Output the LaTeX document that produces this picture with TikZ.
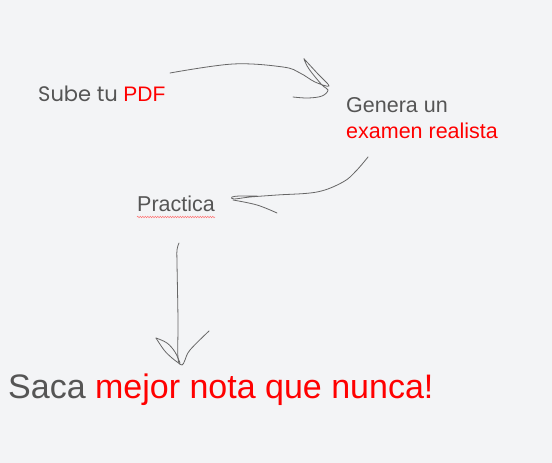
\documentclass[tikz,border=0pt]{standalone}
\usepackage{fontspec}
\setmainfont{Liberation Sans}
\newfontfamily\popfont{Poppins}
\usetikzlibrary{decorations.pathmorphing}
\definecolor{bgc}{HTML}{F3F4F6}
\definecolor{txtgray}{HTML}{555555}
\definecolor{linegray}{HTML}{666666}
\definecolor{myred}{HTML}{FF0000}
\tikzset{
  lbl/.style={anchor=base west, inner sep=0pt, text=txtgray},
  squig/.style={draw=linegray, line width=0.8pt, line cap=round, line join=round}
}
\begin{document}
\begin{tikzpicture}[x=1pt,y=-1pt]
\fill[bgc] (0,0) rectangle (552,463);
\useasboundingbox (0,0) rectangle (552,463);

\node[lbl, font=\fontsize{21}{25}\selectfont] (sube) at (38,101) {\popfont Sube tu \rmfamily\textcolor{myred}{PDF}};
\node[lbl, font=\fontsize{21.5}{26}\selectfont] (gen) at (346,112) {Genera un};
\node[lbl, font=\fontsize{21.5}{26}\selectfont, text=myred] (exam) at (346,138) {examen realista};
\node[lbl, font=\fontsize{21.5}{26}\selectfont] (prac) at (137,211) {Practica};
\node[lbl, font=\fontsize{34}{40}\selectfont] (saca) at (8,398) {Saca \textcolor{myred}{mejor nota que nunca!}};

% spell-check underline
\draw[myred!55, line width=0.5pt, decorate, decoration={snake, amplitude=0.7pt, segment length=2.5pt}] (137,217) -- (215,217);

% arrow 1
\draw[squig] plot[smooth, tension=0.6] coordinates {(170,73) (233,64) (283,67) (300,73) (315,82) (329,86) (318,74) (306,61) (304,59) (309,69) (322,85) (328,90) (322,96) (308,98) (293,97)};

% arrow 2
\draw[squig] plot[smooth, tension=0.6] coordinates {(368,157) (356,171) (343,182) (317,192) (277,195) (250,197) (234,199) (232,197) (240,196) (257,196)};
\draw[squig] plot[smooth, tension=0.6] coordinates {(233,200) (257,205) (277,213)};

% arrow 3
\draw[squig] plot[smooth, tension=0.6] coordinates {(179,243) (177,250) (177,263) (178,320) (178,358) (182,365) (185,360) (190,350) (209,331)};
\draw[squig] plot[smooth, tension=0.6] coordinates {(156,338) (167,343) (175,352) (180,363)};
\draw[squig] plot[smooth, tension=0.6] coordinates {(156,338) (164,350) (172,358) (180,364)};
\end{tikzpicture}
\end{document}
